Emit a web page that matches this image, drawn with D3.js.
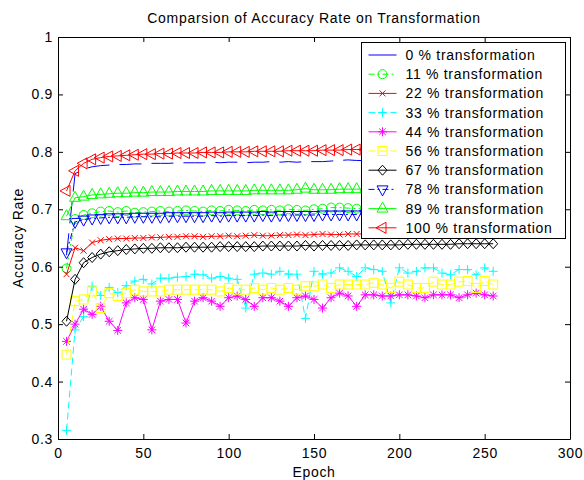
<!DOCTYPE html>
<html>
<head>
<meta charset="utf-8">
<script src="https://cdn.jsdelivr.net/npm/d3@7"></script>
<style>
  body { margin: 0; background: #fff; }
  svg text { font-family: "Liberation Sans", Arial, Helvetica, sans-serif; font-size: 14px; letter-spacing: 0.7px; fill: #000; }
</style>
</head>
<body>
<svg id="chart" width="584" height="480"></svg>
<script>
// Epochs sampled every 5
const epochs = [5, 10, 15, 20, 25, 30, 35, 40, 45, 50,
  55, 60, 65, 70, 75, 80, 85, 90, 95, 100,
  105, 110, 115, 120, 125, 130, 135, 140, 145, 150,
  155, 160, 165, 170, 175, 180, 185, 190, 195, 200,
  205, 210, 215, 220, 225, 230, 235, 240, 245, 250, 255];

const acc0 = [0.620, 0.762, 0.770, 0.774, 0.776, 0.777, 0.778, 0.778, 0.779, 0.779,
  0.780, 0.780, 0.780, 0.781, 0.781, 0.781, 0.781, 0.782, 0.781, 0.782,
  0.782, 0.781, 0.782, 0.782, 0.783, 0.782, 0.783, 0.782, 0.783, 0.783,
  0.783, 0.784, 0.785, 0.786, 0.785, 0.785, 0.786, 0.786, 0.786, 0.787,
  0.786, 0.787, 0.787, 0.787, 0.788, 0.787, 0.788, 0.788, 0.788, 0.789, 0.789];

const acc11 = [0.597, 0.683, 0.690, 0.693, 0.696, 0.697, 0.695, 0.697, 0.694, 0.695,
  0.696, 0.697, 0.696, 0.697, 0.698, 0.697, 0.696, 0.698, 0.697, 0.699,
  0.698, 0.697, 0.699, 0.698, 0.699, 0.698, 0.700, 0.699, 0.698, 0.700,
  0.701, 0.703, 0.703, 0.702, 0.701, 0.701, 0.702, 0.701, 0.702, 0.702,
  0.701, 0.702, 0.703, 0.702, 0.702, 0.703, 0.702, 0.703, 0.703, 0.702, 0.703];

const acc22 = [0.587, 0.633, 0.628, 0.642, 0.646, 0.648, 0.649, 0.649, 0.650, 0.650,
  0.651, 0.651, 0.652, 0.652, 0.653, 0.653, 0.652, 0.653, 0.653, 0.654,
  0.653, 0.654, 0.655, 0.654, 0.654, 0.655, 0.655, 0.656, 0.655, 0.656,
  0.657, 0.656, 0.656, 0.657, 0.657, 0.657, 0.658, 0.657, 0.658, 0.658,
  0.657, 0.658, 0.658, 0.659, 0.658, 0.659, 0.658, 0.659, 0.659, 0.659, 0.659];

const acc33 = [0.315, 0.490, 0.513, 0.566, 0.550, 0.564, 0.555, 0.567, 0.575, 0.578,
  0.570, 0.580, 0.580, 0.582, 0.583, 0.587, 0.586, 0.580, 0.583, 0.580,
  0.578, 0.528, 0.587, 0.589, 0.587, 0.592, 0.587, 0.587, 0.510, 0.592,
  0.587, 0.589, 0.598, 0.592, 0.583, 0.598, 0.595, 0.592, 0.537, 0.598,
  0.589, 0.592, 0.598, 0.598, 0.589, 0.586, 0.595, 0.595, 0.586, 0.598, 0.592];

const acc44 = [0.470, 0.500, 0.526, 0.517, 0.531, 0.505, 0.489, 0.537, 0.546, 0.543,
  0.490, 0.540, 0.543, 0.543, 0.502, 0.540, 0.546, 0.540, 0.531, 0.546,
  0.549, 0.543, 0.531, 0.546, 0.546, 0.540, 0.531, 0.546, 0.549, 0.543,
  0.528, 0.546, 0.554, 0.549, 0.531, 0.551, 0.551, 0.549, 0.549, 0.551,
  0.551, 0.549, 0.546, 0.551, 0.551, 0.551, 0.546, 0.551, 0.554, 0.551, 0.549];

const acc56 = [0.447, 0.540, 0.543, 0.557, 0.528, 0.554, 0.549, 0.554, 0.560, 0.557,
  0.557, 0.557, 0.560, 0.560, 0.560, 0.560, 0.560, 0.560, 0.557, 0.563,
  0.560, 0.560, 0.563, 0.560, 0.563, 0.560, 0.563, 0.560, 0.566, 0.566,
  0.569, 0.563, 0.569, 0.569, 0.569, 0.569, 0.572, 0.569, 0.563, 0.574,
  0.569, 0.563, 0.563, 0.574, 0.569, 0.569, 0.574, 0.575, 0.563, 0.575, 0.569];

const acc67 = [0.505, 0.578, 0.607, 0.616, 0.622, 0.626, 0.628, 0.630, 0.631, 0.632,
  0.632, 0.633, 0.633, 0.633, 0.634, 0.634, 0.634, 0.634, 0.635, 0.635,
  0.635, 0.635, 0.635, 0.636, 0.636, 0.636, 0.636, 0.636, 0.637, 0.636,
  0.637, 0.637, 0.637, 0.637, 0.638, 0.638, 0.638, 0.638, 0.638, 0.638,
  0.639, 0.639, 0.639, 0.639, 0.639, 0.639, 0.640, 0.640, 0.640, 0.640, 0.640];

const acc78 = [0.625, 0.678, 0.682, 0.684, 0.685, 0.686, 0.686, 0.686, 0.687, 0.687,
  0.687, 0.687, 0.688, 0.688, 0.688, 0.688, 0.688, 0.689, 0.688, 0.689,
  0.689, 0.689, 0.689, 0.690, 0.689, 0.690, 0.690, 0.690, 0.690, 0.690,
  0.691, 0.691, 0.691, 0.691, 0.691, 0.692, 0.692, 0.692, 0.692, 0.692,
  0.692, 0.692, 0.693, 0.693, 0.693, 0.693, 0.693, 0.693, 0.693, 0.694, 0.694];

const acc89 = [0.688, 0.720, 0.722, 0.725, 0.726, 0.727, 0.728, 0.728, 0.729, 0.729,
  0.730, 0.730, 0.730, 0.731, 0.731, 0.731, 0.731, 0.732, 0.732, 0.732,
  0.732, 0.732, 0.733, 0.733, 0.733, 0.733, 0.733, 0.734, 0.736, 0.734,
  0.734, 0.734, 0.735, 0.735, 0.735, 0.735, 0.735, 0.735, 0.736, 0.736,
  0.736, 0.736, 0.736, 0.736, 0.737, 0.737, 0.737, 0.737, 0.737, 0.737, 0.737];

const acc100 = [0.732, 0.767, 0.780, 0.787, 0.790, 0.792, 0.793, 0.794, 0.795, 0.796,
  0.796, 0.797, 0.797, 0.798, 0.798, 0.798, 0.799, 0.799, 0.799, 0.800,
  0.800, 0.800, 0.801, 0.801, 0.801, 0.801, 0.802, 0.802, 0.802, 0.802,
  0.803, 0.803, 0.803, 0.804, 0.804, 0.804, 0.804, 0.805, 0.805, 0.805,
  0.805, 0.805, 0.806, 0.806, 0.806, 0.806, 0.806, 0.807, 0.807, 0.807, 0.807];

const seriesNames = ["0 % transformation", "11 % transformation", "22 % transformation",
  "33 % transformation", "44 % transformation", "56 % transformation", "67 % transformation",
  "78 % transformation", "89 % transformation", "100 % transformation"];
const seriesValues = [acc0, acc11, acc22, acc33, acc44, acc56, acc67, acc78, acc89, acc100];

const xTicks = [0, 50, 100, 150, 200, 250, 300];
const yTicks = [0.3, 0.4, 0.5, 0.6, 0.7, 0.8, 0.9, 1];
const yTickLabels = ["0.3", "0.4", "0.5", "0.6", "0.7", "0.8", "0.9", "1"];

// MATLAB-ish line specs
const styles = [
  {color: "#0000ff", dash: "22,10", marker: "none"},
  {color: "#00ff00", dash: "6,3,2,3", marker: "circle"},
  {color: "#ff0000", dash: null, marker: "x"},
  {color: "#00ffff", dash: "7,4", marker: "plus"},
  {color: "#ff00ff", dash: null, marker: "star"},
  {color: "#ffff00", dash: "7,4", marker: "square"},
  {color: "#000000", dash: null, marker: "diamond"},
  {color: "#0000ff", dash: "6,3,2,3", marker: "down"},
  {color: "#00ff00", dash: null, marker: "up"},
  {color: "#ff0000", dash: null, marker: "left"}
];

function markerPath(type) {
  switch (type) {
    case "circle": return "M4.5,0A4.5,4.5 0 1,1 -4.5,0A4.5,4.5 0 1,1 4.5,0Z";
    case "x": return "M-3,-3L3,3M-3,3L3,-3";
    case "plus": return "M-4.5,0L4.5,0M0,-4.5L0,4.5";
    case "star": return "M-4.5,0L4.5,0M0,-4.5L0,4.5M-3.3,-3.3L3.3,3.3M-3.3,3.3L3.3,-3.3";
    case "square": return "M-4.5,-4.5L4.5,-4.5L4.5,4.5L-4.5,4.5Z";
    case "diamond": return "M0,-5L4.5,0L0,5L-4.5,0Z";
    case "up": return "M0,-6.5L5.5,3.5L-5.5,3.5Z";
    case "down": return "M0,6.5L5.5,-3.5L-5.5,-3.5Z";
    case "left": return "M-6.5,0L3.5,-5.5L3.5,5.5Z";
    default: return null;
  }
}

const margin = {top: 37, right: 14, bottom: 41, left: 58};
const width = 584 - margin.left - margin.right;
const height = 480 - margin.top - margin.bottom;

const svg = d3.select("#chart");
const g = svg.append("g").attr("transform", `translate(${margin.left},${margin.top})`);

const x = d3.scaleLinear().domain([0, 300]).range([0, width]);
const y = d3.scaleLinear().domain([0.3, 1]).range([height, 0]);

// Series lines and markers
const line = d3.line().x((d, i) => x(epochs[i])).y(d => y(d));

seriesValues.forEach((vals, k) => {
  const st = styles[k];
  g.append("path")
    .datum(vals)
    .attr("d", line)
    .attr("fill", "none")
    .attr("stroke", st.color)
    .attr("stroke-width", 1)
    .attr("stroke-dasharray", st.dash);

  const mp = markerPath(st.marker);
  if (mp) {
    g.append("g").selectAll("path")
      .data(vals)
      .enter()
      .append("path")
      .attr("transform", (d, i) => `translate(${x(epochs[i])},${y(d)})`)
      .attr("d", mp)
      .attr("fill", "none")
      .attr("stroke", st.color)
      .attr("stroke-width", 1);
  }
});

// Axes: box with inward ticks on all four sides
const xb = g.append("g").attr("transform", `translate(0,${height})`)
  .call(d3.axisBottom(x).tickValues(xTicks).tickSize(-5).tickSizeOuter(0).tickPadding(9));
const xt = g.append("g")
  .call(d3.axisTop(x).tickValues(xTicks).tickSize(-5).tickSizeOuter(0).tickFormat(""));
const yl = g.append("g")
  .call(d3.axisLeft(y).tickValues(yTicks).tickSize(-5).tickSizeOuter(0).tickPadding(5)
    .tickFormat((d, i) => yTickLabels[i]));
const yr = g.append("g").attr("transform", `translate(${width},0)`)
  .call(d3.axisRight(y).tickValues(yTicks).tickSize(-5).tickSizeOuter(0).tickFormat(""));

[xb, xt, yl, yr].forEach(a => {
  a.selectAll("path, line").attr("stroke", "#000").attr("stroke-width", 1);
  a.selectAll("text").attr("font-size", null).attr("font-family", null).attr("fill", "#000");
});

// Title and axis labels
svg.append("text")
  .attr("x", margin.left + width / 2)
  .attr("y", 23)
  .attr("text-anchor", "middle")
  .text("Comparsion of Accuracy Rate on Transformation");

svg.append("text")
  .attr("x", margin.left + width / 2)
  .attr("y", 477)
  .attr("text-anchor", "middle")
  .text("Epoch");

svg.append("text")
  .attr("transform", `translate(23,${margin.top + height / 2}) rotate(-90)`)
  .attr("text-anchor", "middle")
  .text("Accuracy Rate");

// Legend
const legend = svg.append("g").attr("transform", "translate(361.5,42.5)");
legend.append("rect")
  .attr("width", 204)
  .attr("height", 196)
  .attr("fill", "#fff")
  .attr("stroke", "#000")
  .attr("stroke-width", 1);

seriesNames.forEach((name, k) => {
  const st = styles[k];
  const cy = 12.5 + k * 19.2;
  const row = legend.append("g").attr("transform", `translate(0,${cy})`);
  row.append("line")
    .attr("x1", 7).attr("x2", 35)
    .attr("y1", 0).attr("y2", 0)
    .attr("stroke", st.color)
    .attr("stroke-width", 1)
    .attr("stroke-dasharray", k === 0 ? null : st.dash);
  const mp = markerPath(st.marker);
  if (mp) {
    row.append("path")
      .attr("transform", "translate(21,0)")
      .attr("d", mp)
      .attr("fill", "none")
      .attr("stroke", st.color)
      .attr("stroke-width", 1);
  }
  row.append("text")
    .attr("x", 44)
    .attr("y", 5)
    .text(name);
});
</script>
</body>
</html>
